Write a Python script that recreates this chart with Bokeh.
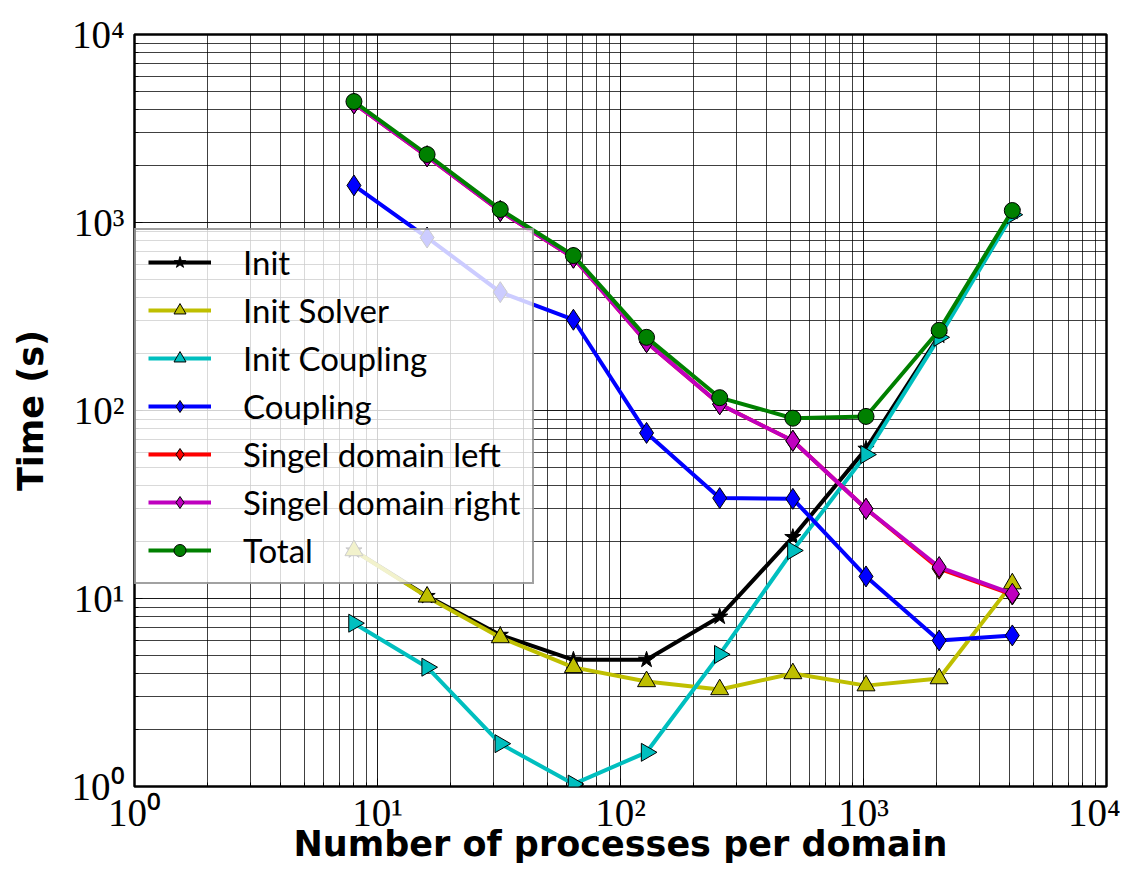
import math
from bokeh.plotting import figure
from bokeh.models import Range1d, FixedTicker, Legend, LegendItem
from bokeh.embed import file_html
from bokeh.resources import INLINE

procs = [8, 16, 32, 64, 128, 256, 512, 1024, 2048, 4096]
init = [18.0, 10.3, 6.4, 4.72, 4.72, 8.0, 21.2, 62.5, 250, 1140]
init_solver = [18.0, 10.2, 6.2, 4.3, 3.62, 3.28, 3.99, 3.44, 3.75, 12.0]
init_coupling = [7.39, 4.31, 1.69, 1.03, 1.52, 5.04, 18.0, 58.3, 245, 1100]
coupling = [1574, 832, 426, 304, 76, 34.2, 33.9, 13.1, 5.98, 6.36]
single_left = [4300, 2250, 1150, 650, 231, 108, 69, 30, 14.4, 10.5]
single_right = [4300, 2250, 1150, 650, 231, 108, 69, 30, 14.7, 10.6]
total = [4400, 2300, 1173, 667, 245, 117, 91, 93, 267, 1158]

series_names = ["Init", "Init Solver", "Init Coupling", "Coupling",
                "Singel domain left", "Singel domain right", "Total"]
major_ticks = [1, 10, 100, 1000, 10000]
tick_labels = {1: "10⁰", 10: "10¹", 100: "10²", 1000: "10³", 10000: "10⁴"}
x_title = "Number of processes per domain"
y_title = "Time (s)"

minor = [k * 10 ** d for d in range(0, 4) for k in range(2, 10)]

p = figure(width=1120, height=867, x_axis_type="log", y_axis_type="log",
           x_range=Range1d(1, 1e4), y_range=Range1d(1, 1e4),
           output_backend="svg", toolbar_location=None,
           min_border_left=134, min_border_right=14, min_border_top=34,
           min_border_bottom=81)

p.outline_line_color = "black"
p.outline_line_width = 2.5

for ax in (p.xaxis[0], p.yaxis[0]):
    ax.ticker = FixedTicker(ticks=major_ticks, minor_ticks=minor)
    ax.major_label_overrides = tick_labels
    ax.major_label_text_font = "Liberation Serif"
    ax.major_label_text_font_size = "39px"
    ax.major_label_text_color = "black"
    ax.axis_line_color = None
    ax.major_tick_out = 0
    ax.major_tick_in = 8
    ax.minor_tick_out = 0
    ax.minor_tick_in = 4
    ax.axis_label_text_font = "DejaVu Sans"
    ax.axis_label_text_font_style = "bold"
    ax.axis_label_text_font_size = "35px"
    ax.axis_label_text_color = "black"

p.xaxis.axis_label = x_title
p.yaxis.axis_label = y_title
p.xaxis.major_label_standoff = 4
p.xaxis.axis_label_standoff = -13
p.yaxis.major_label_standoff = 10
p.yaxis.axis_label_standoff = 18

for g in (p.xgrid[0], p.ygrid[0]):
    g.grid_line_color = "black"
    g.grid_line_width = 1
    g.grid_line_alpha = 0.9
    g.minor_grid_line_color = "black"
    g.minor_grid_line_width = 1
    g.minor_grid_line_alpha = 0.75

styles = [
    (init, "black", "star", 17, 0.0),
    (init_solver, "#bfbf00", "triangle", 18, 0.0),
    (init_coupling, "#00bfbf", "triangle", 18, -math.pi / 2),
    (coupling, "#0000ff", "diamond", 21, 0.0),
    (single_left, "#ff0000", "diamond", 21, 0.0),
    (single_right, "#bf00bf", "diamond", 21, 0.0),
    (total, "#008000", "circle", 16, 0.0),
]

items = []
for name, (vals, col, mk, sz, ang) in zip(series_names, styles):
    lr = p.line(procs, vals, line_color=col, line_width=4)
    sr = p.scatter(procs, vals, marker=mk, size=sz, angle=ang,
                   fill_color=col, line_color="black", line_width=1)
    items.append(LegendItem(label=name, renderers=[lr, sr]))

legend = Legend(items=items, location=(0, 202),
                label_text_font="Lato", label_text_font_size="33px",
                label_text_color="black",
                glyph_width=63, glyph_height=30, label_height=30,
                label_standoff=32, spacing=8, padding=12, margin=0,
                background_fill_color="white", background_fill_alpha=0.8,
                border_line_color="#444444", border_line_width=2)
p.add_layout(legend)

open("out.html", "w").write(file_html(p, INLINE))
